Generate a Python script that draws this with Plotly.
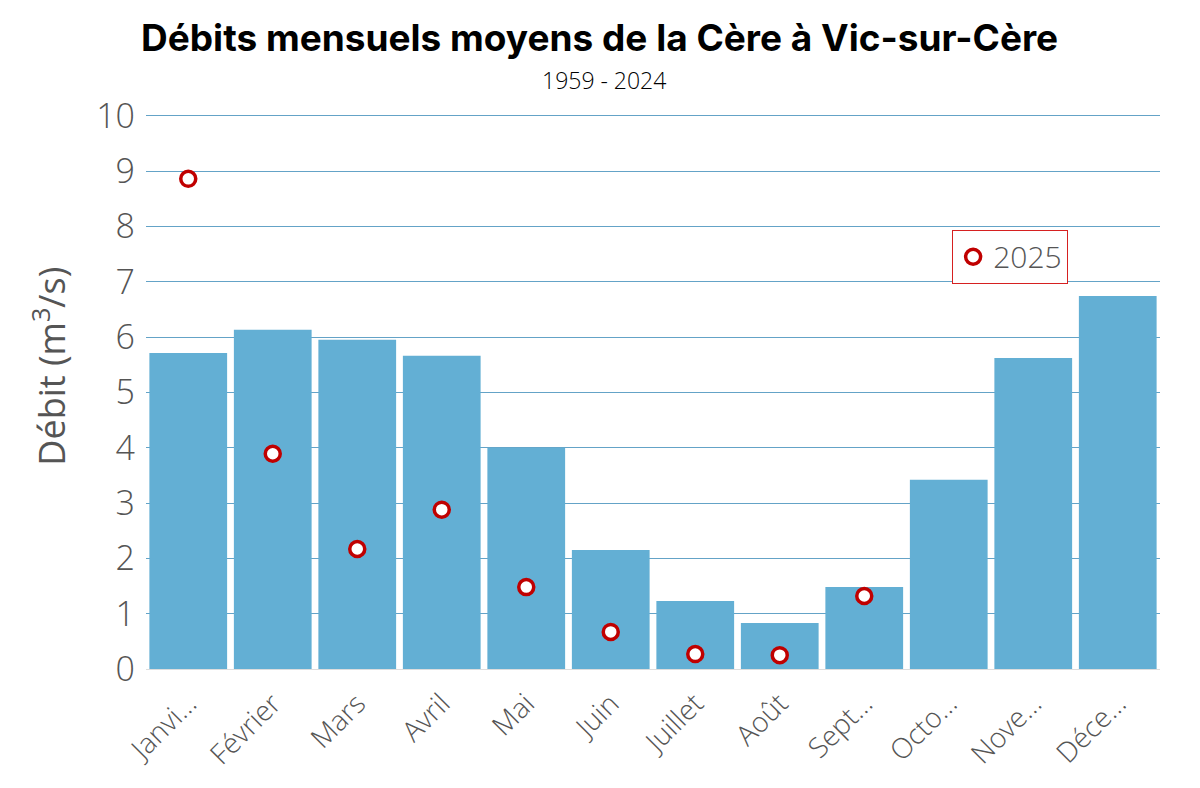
import plotly.graph_objects as go

# Monthly labels (truncated as on the original)
mois = ["Janvi…", "Février", "Mars", "Avril", "Mai", "Juin",
        "Juillet", "Août", "Sept…", "Octo…", "Nove…", "Déce…"]

# Mean monthly flow 1959-2024 (m3/s)
debit_moyen = [5.71, 6.13, 5.95, 5.66, 4.00, 2.15, 1.23, 0.83, 1.48, 3.42, 5.62, 6.74]

# 2025 monthly flow (m3/s), no data yet for Oct-Dec
debit_2025 = [8.86, 3.89, 2.17, 2.88, 1.48, 0.67, 0.27, 0.25, 1.32, None, None, None]

BAR_COLOR = "#63afd4"
RED = "#c00000"
GREY = "#555555"
LIGHT = "Open Sans"

fig = go.Figure()

fig.add_trace(go.Bar(
    x=mois, y=debit_moyen, name="1959 - 2024",
    marker=dict(color=BAR_COLOR, line=dict(width=0)),
    width=0.92, showlegend=False,
))

fig.add_trace(go.Scatter(
    x=mois, y=debit_2025, name="2025", mode="markers",
    marker=dict(symbol="circle", size=15, color="white",
                line=dict(color=RED, width=3.5)),
))

fig.update_layout(
    width=1200, height=788,
    paper_bgcolor="white", plot_bgcolor="white",
    margin=dict(l=138, r=48, t=105, b=127),
    font=dict(family=LIGHT, color=GREY),
    title=dict(
        text="<b>Débits mensuels moyens de la Cère à Vic-sur-Cère</b>",
        font=dict(family="Inter", size=37, color="black"),
        xref="container", x=0.493, xanchor="center",
        yref="container", y=0.962, yanchor="middle",
    ),
    legend=dict(
        x=0.795, y=0.79, xanchor="left", yanchor="top",
        bordercolor="#d62020", borderwidth=1, bgcolor="white",
        font=dict(family=LIGHT, size=30, color=GREY, weight=300),
        itemwidth=30,
    ),
    annotations=[
        dict(
            text="1959 - 2024", xref="paper", yref="paper",
            x=0.452, y=1.059, xanchor="center", yanchor="middle",
            showarrow=False,
            font=dict(family=LIGHT, size=23, color="black", weight=300),
        ),
        # y axis title, placed by hand to sit a little above the middle
        dict(
            text="Débit (m<sup>3</sup>/s)", xref="paper", yref="paper",
            x=-0.095, y=0.545, xanchor="center", yanchor="middle",
            textangle=-90, showarrow=False,
            font=dict(family=LIGHT, size=36, color=GREY),
        ),
    ],
)

fig.update_xaxes(
    tickangle=-45,
    tickfont=dict(family=LIGHT, size=28, color=GREY, weight=300),
    showgrid=False, showline=True, linecolor="#dddddd", linewidth=1,
    ticks="", range=[-0.5, 11.5], ticklabelstandoff=6,
)

fig.update_yaxes(
    range=[0, 10.05], tickvals=list(range(0, 11)),
    tickfont=dict(family=LIGHT, size=34, color=GREY, weight=300),
    showgrid=True, gridcolor="#64a3c7", gridwidth=1,
    zeroline=False, ticks="", ticklabelstandoff=10,
)

fig.write_html("out.html")
